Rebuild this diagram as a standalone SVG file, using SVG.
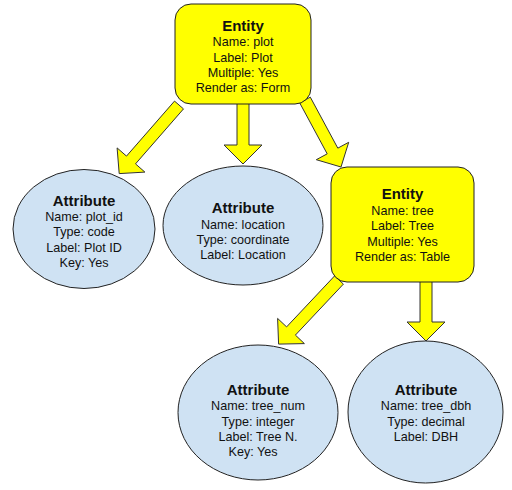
<svg xmlns="http://www.w3.org/2000/svg" width="512" height="490" viewBox="0 0 512 490">
<style>
.arrow{fill:#ffff00;stroke:#333;stroke-width:1;stroke-linejoin:miter}
.entity{fill:#ffff00;stroke:#222;stroke-width:1}
.attr{fill:#cfe2f3;stroke:#222;stroke-width:1}
text{font-family:"Liberation Sans",Arial,sans-serif;font-size:12.6px;fill:#111;text-anchor:middle}
.t{font-weight:bold;font-size:15px}
</style>
<rect width="512" height="490" fill="#ffffff"/>
<g id="connectors">
<polygon class="arrow" points="174.5,101.1 183.5,108.9 135.5,163.9 144.9,172.1 119.2,173.6 117.1,147.9 126.5,156.1"/>
<polygon class="arrow" points="237,100 249,100 249,145 262,145 243,164 224,145 237,145"/>
<polygon class="arrow" points="299.7,102.85 310.3,97.15 337.8,148.15 348.7,142.3 341,167 316.3,159.7 327.2,153.85"/>
<polygon class="arrow" points="334.6,275.9 343.4,284.1 295.4,335.1 304.4,343.6 278.6,344.1 277.6,318.4 286.6,326.9"/>
<polygon class="arrow" points="420,280 432,280 432,322 445,322 426,341 407,322 420,322"/>
</g>
<g id="entity-plot">
<rect class="entity" x="175" y="4" width="136" height="100" rx="16" ry="16"/>
<text class="t" x="243" y="31">Entity</text>
<text x="243" y="46.3">Name: plot</text>
<text x="243" y="61.5">Label: Plot</text>
<text x="243" y="76.7">Multiple: Yes</text>
<text x="243" y="92">Render as: Form</text>
</g>
<g id="attr-plot_id">
<ellipse class="attr" cx="84" cy="229" rx="71" ry="59.5"/>
<text class="t" x="84" y="205.7">Attribute</text>
<text x="84" y="221">Name: plot_id</text>
<text x="84" y="236.3">Type: code</text>
<text x="84" y="251.6">Label: Plot ID</text>
<text x="84" y="266.8">Key: Yes</text>
</g>
<g id="attr-location">
<ellipse class="attr" cx="243" cy="225.5" rx="80" ry="59.5"/>
<text class="t" x="243" y="213.3">Attribute</text>
<text x="243" y="228.6">Name: location</text>
<text x="243" y="243.9">Type: coordinate</text>
<text x="243" y="259.2">Label: Location</text>
</g>
<g id="entity-tree">
<rect class="entity" x="331" y="167" width="143" height="115" rx="16" ry="16"/>
<text class="t" x="402.5" y="199.3">Entity</text>
<text x="402.5" y="214.8">Name: tree</text>
<text x="402.5" y="230.2">Label: Tree</text>
<text x="402.5" y="245.6">Multiple: Yes</text>
<text x="402.5" y="261">Render as: Table</text>
</g>
<g id="attr-tree_num">
<ellipse class="attr" cx="258" cy="412.5" rx="80" ry="67.5"/>
<text class="t" x="258" y="395">Attribute</text>
<text x="258" y="410.4">Name: tree_num</text>
<text x="258" y="425.7">Type: integer</text>
<text x="258" y="441">Label: Tree N.</text>
<text x="253" y="456.3">Key: Yes</text>
</g>
<g id="attr-tree_dbh">
<ellipse class="attr" cx="425.5" cy="412" rx="77.5" ry="71"/>
<text class="t" x="426" y="395">Attribute</text>
<text x="426" y="410.4">Name: tree_dbh</text>
<text x="426" y="425.7">Type: decimal</text>
<text x="426" y="441">Label: DBH</text>
</g>
</svg>
